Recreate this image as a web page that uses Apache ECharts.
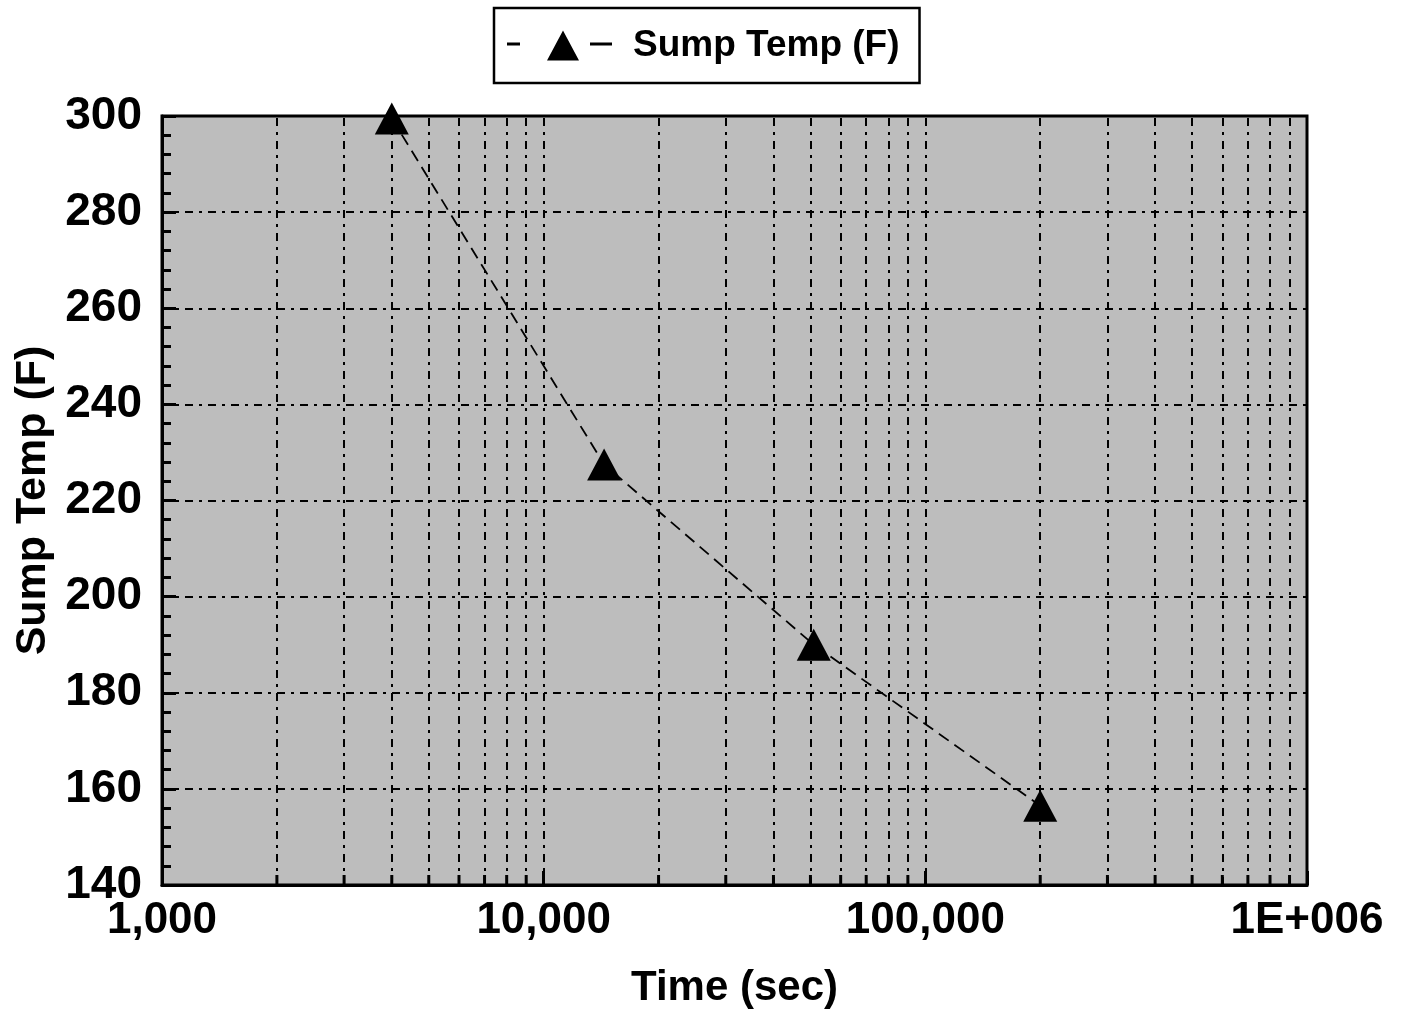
<!DOCTYPE html>
<html><head><meta charset="utf-8">
<script src="https://cdn.jsdelivr.net/npm/echarts@6/dist/echarts.min.js"></script>
<style>html,body{margin:0;padding:0;background:#fff}#c{width:1409px;height:1019px}</style>
</head><body><div id="c"></div>
<script>
const seriesName = 'Sump Temp (F)';
const timeSec = [4000, 14400, 51000, 200000];
const sumpTemp = [299.5, 227.5, 190, 156.5];
const xMajorTicks = [1000, 10000, 100000, 1000000];
const xTickLabels = ['1,000', '10,000', '100,000', '1E+006'];
const xMinorTicks = [2000,3000,4000,5000,6000,7000,8000,9000,
  20000,30000,40000,50000,60000,70000,80000,90000,
  200000,300000,400000,500000,600000,700000,800000,900000];
const xGridLines = xMinorTicks.concat([10000, 100000]);
const yMin = 140, yMax = 300, yStep = 20;

const font = '"Liberation Sans", Arial, Helvetica, sans-serif';
const dashDot = [8, 6, 3, 6];
const legendIcon = 'path://M0,12h13v3h-13z M56,0L72,30H40z M83,12h22v3h-22z';

const chart = echarts.init(document.getElementById('c'));
chart.setOption({
  animation: false,
  backgroundColor: '#ffffff',
  grid: { left: 162, right: 102, top: 116, bottom: 134, show: true,
    backgroundColor: '#bdbdbd', borderColor: '#000', borderWidth: 3 },
  legend: {
    data: [{ name: seriesName, icon: legendIcon }], left: 494, top: 8,
    borderColor: '#000', borderWidth: 2.5, padding: [19, 20, 19, 13],
    itemWidth: 105, itemHeight: 30, itemGap: 0,
    itemStyle: { color: '#000' },
    textStyle: { fontFamily: font, fontWeight: 'bold', fontSize: 37, color: '#000', padding: [0, 0, 0, 16] }
  },
  xAxis: {
    type: 'log', logBase: 10, min: 1000, max: 1000000,
    name: 'Time (sec)', nameLocation: 'middle', nameGap: 82,
    nameTextStyle: { fontFamily: font, fontWeight: 'bold', fontSize: 42, color: '#000' },
    axisLine: { show: true, lineStyle: { color: '#000', width: 3 } },
    axisTick: { show: true, inside: true, length: 14, lineStyle: { color: '#000', width: 3 } },
    axisLabel: { fontFamily: font, fontWeight: 'bold', fontSize: 44, color: '#000', margin: 14,
      formatter: v => { const i = xMajorTicks.findIndex(t => Math.abs(Math.log10(t) - Math.log10(v)) < 1e-6); return i >= 0 ? xTickLabels[i] : ''; } },
    splitLine: { show: false }
  },
  yAxis: {
    type: 'value', min: yMin, max: yMax, interval: yStep,
    name: 'Sump Temp (F)', nameLocation: 'middle', nameGap: 97,
    nameTextStyle: { fontFamily: font, fontWeight: 'bold', fontSize: 43, color: '#000' },
    axisLine: { show: true, lineStyle: { color: '#000', width: 3 } },
    axisTick: { show: true, inside: true, length: 14, lineStyle: { color: '#000', width: 3 } },
    minorTick: { show: true, splitNumber: 5, length: 9, lineStyle: { color: '#000', width: 3 } },
    axisLabel: { fontFamily: font, fontWeight: 'bold', fontSize: 46, color: '#000', margin: 20 },
    splitLine: { show: true, lineStyle: { color: '#000', width: 2, type: dashDot } }
  },
  series: [
    {
      type: 'custom', silent: true, legendHoverLink: false,
      data: xMinorTicks.map(v => [v, yMin]),
      renderItem: (params, api) => {
        const p = api.coord([api.value(0), api.value(1)]);
        return { type: 'line', shape: { x1: p[0], y1: p[1], x2: p[0], y2: p[1] - 10 },
          style: { stroke: '#000', lineWidth: 3 } };
      },
      z: 3
    },
    {
      name: seriesName, type: 'line',
      data: timeSec.map((t, i) => [t, sumpTemp[i]]),
      symbol: 'triangle', symbolSize: [34, 32],
      itemStyle: { color: '#000' },
      lineStyle: { color: '#000', width: 1.8, type: [12, 7] },
      markLine: {
        silent: true, symbol: ['none', 'none'], label: { show: false },
        lineStyle: { color: '#000', width: 2, type: dashDot },
        data: xGridLines.map(v => ({ xAxis: v }))
      },
      z: 5
    }
  ]
});
</script></body></html>
